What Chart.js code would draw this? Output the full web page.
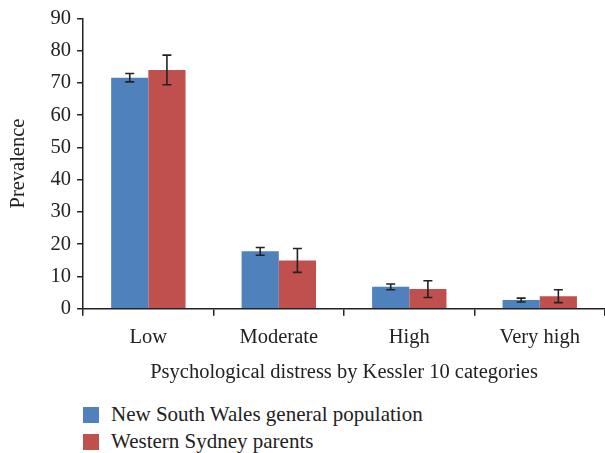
<!DOCTYPE html>
<html>
<head>
<meta charset="utf-8">
<script src="https://cdn.jsdelivr.net/npm/chart.js@4"></script>
<style>
  body { margin:0; background:#fff; font-family:"Liberation Serif", serif; }
  #wrap { position:absolute; left:0; top:0; width:605px; height:385px; }
  #legend { position:absolute; left:83px; top:401px; font-size:21px; color:#222; }
  .row { display:flex; align-items:center; height:27px; }
  .box { width:16px; height:16px; margin-right:12px; }
</style>
</head>
<body>
<div id="wrap"><canvas id="chart"></canvas></div>
<div id="legend"></div>
<script>
const categories = ["Low", "Moderate", "High", "Very high"];
const seriesNames = ["New South Wales general population", "Western Sydney parents"];
const nswValues = [71.6, 17.8, 6.8, 2.7];
const nswErrors = [1.3, 1.2, 0.9, 0.6];
const wsValues = [74.0, 15.0, 6.1, 3.9];
const wsErrors = [4.6, 3.7, 2.6, 2.0];
const yTicks = [0, 10, 20, 30, 40, 50, 60, 70, 80, 90];
const colors = ["#4F81BD", "#C0504D"];

const errorBars = {
  id: "errorBars",
  afterDatasetsDraw(chart) {
    const ctx = chart.ctx;
    const y = chart.scales.y;
    const errs = [nswErrors, wsErrors];
    ctx.save();
    ctx.strokeStyle = "#222";
    ctx.lineWidth = 1.6;
    chart.data.datasets.forEach((ds, i) => {
      chart.getDatasetMeta(i).data.forEach((bar, j) => {
        const v = ds.data[j], e = errs[i][j];
        const top = y.getPixelForValue(v + e);
        const bot = y.getPixelForValue(v - e);
        ctx.beginPath();
        ctx.moveTo(bar.x, top); ctx.lineTo(bar.x, bot);
        ctx.moveTo(bar.x - 4.5, top); ctx.lineTo(bar.x + 4.5, top);
        ctx.moveTo(bar.x - 4.5, bot); ctx.lineTo(bar.x + 4.5, bot);
        ctx.stroke();
      });
    });
    ctx.restore();
  }
};

const font = { family: "Liberation Serif", size: 20.5 };

new Chart(document.getElementById("chart"), {
  type: "bar",
  data: {
    labels: categories,
    datasets: [
      { label: seriesNames[0], data: nswValues, backgroundColor: colors[0] },
      { label: seriesNames[1], data: wsValues, backgroundColor: colors[1] }
    ]
  },
  options: {
    responsive: true,
    maintainAspectRatio: false,
    animation: false,
    layout: { padding: { top: 4, left: 2, right: 0, bottom: 0 } },
    datasets: { bar: { categoryPercentage: 0.57, barPercentage: 1.0 } },
    plugins: { legend: { display: false }, tooltip: { enabled: false } },
    scales: {
      x: {
        grid: { display: true, drawOnChartArea: false, offset: true, tickLength: 7, color: "#222", lineWidth: 1.5 },
        border: { color: "#222", width: 1.5 },
        ticks: { color: "#222", font: font, padding: 10 },
        title: { display: true, text: "Psychological distress by Kessler 10 categories", color: "#222", font: font, padding: { top: 0, bottom: 0 } }
      },
      y: {
        min: 0, max: 90,
        afterBuildTicks: s => { s.ticks = yTicks.map(v => ({ value: v })); },
        grid: { display: true, drawOnChartArea: false, tickLength: 6, color: "#222", lineWidth: 1.5 },
        border: { color: "#222", width: 1.5 },
        ticks: { color: "#222", font: font, padding: 6 },
        title: { display: true, text: "Prevalence", color: "#222", font: font, padding: { bottom: 14 } }
      }
    }
  },
  plugins: [errorBars]
});

const legend = document.getElementById("legend");
seriesNames.forEach((name, i) => {
  const row = document.createElement("div");
  row.className = "row";
  row.innerHTML = `<div class="box" style="background:${colors[i]}"></div><span>${name}</span>`;
  legend.appendChild(row);
});
</script>
</body>
</html>
